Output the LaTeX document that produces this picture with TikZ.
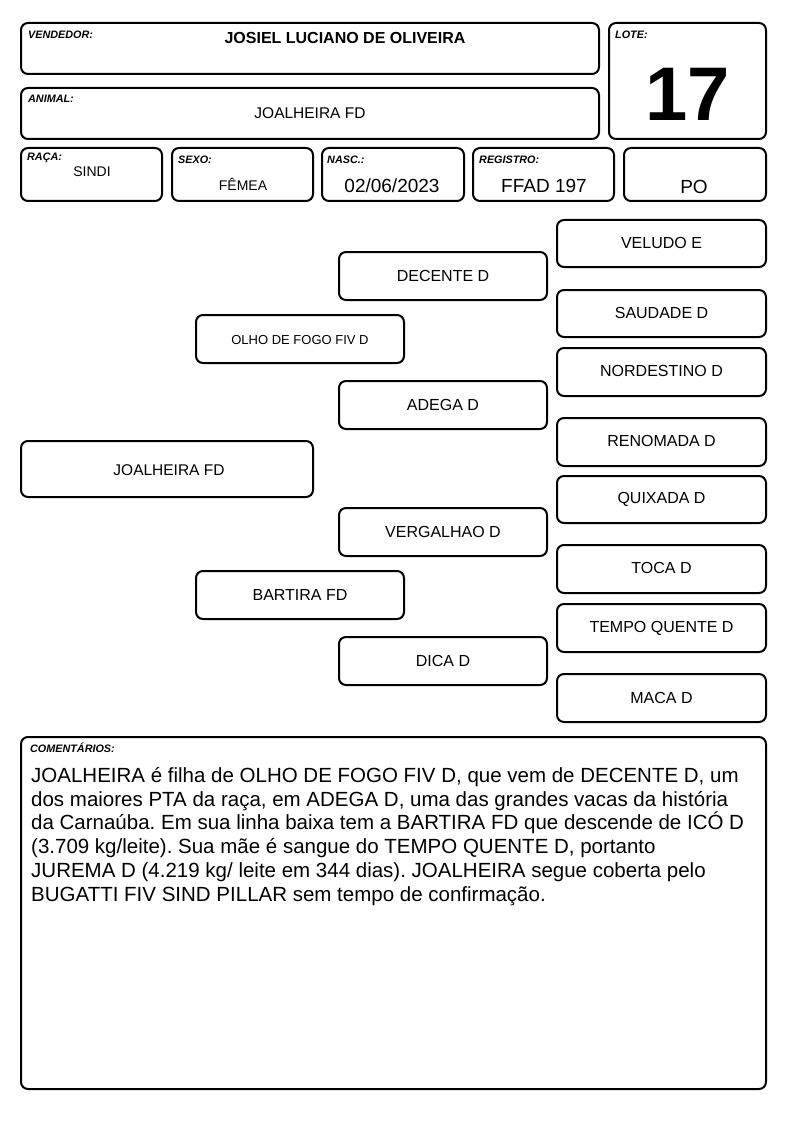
\documentclass[tikz,border=0pt]{standalone}
\usepackage{fontspec}
\setmainfont{Liberation Sans}
\frenchspacing
\begin{document}
\begin{tikzpicture}[x=1pt,y=-1pt,
  box/.style={draw,line width=2pt,rounded corners=7pt},
  lab/.style={anchor=west,font=\fontsize{10.8}{12}\selectfont\bfseries\itshape,inner sep=0pt},
  ped/.style={font=\fontsize{16}{18}\selectfont,inner sep=0pt},
  small/.style={font=\fontsize{14}{16}\selectfont,inner sep=0pt},
  val/.style={font=\fontsize{19}{21}\selectfont,inner sep=0pt}]
\useasboundingbox (0,0) rectangle (794,1123);
\fill[white] (0,0) rectangle (794,1123);
% header boxes
\draw[box] (21,23) rectangle (599,74);
\node[lab] (lvend) at (28,35) {VENDEDOR:};
\node[font=\fontsize{16}{18}\selectfont\bfseries,inner sep=0pt] (vend) at (345,38) {JOSIEL LUCIANO DE OLIVEIRA};
\draw[box] (609,23) rectangle (766,139);
\node[lab] (llote) at (615,35) {LOTE:};
\node[font=\fontsize{76}{80}\selectfont\bfseries,inner sep=0pt] (lote) at (688,94) {17};
\draw[box] (21,88) rectangle (599,139);
\node[lab] (lanim) at (28,99) {ANIMAL:};
\node[font=\fontsize{15.5}{17}\selectfont,inner sep=0pt] (anim) at (310,113) {JOALHEIRA FD};
\draw[box] (21,148) rectangle (162,201);
\node[lab] (lraca) at (27,158) {RAÇA:};
\node[small] (raca) at (92,172) {SINDI};
\draw[box] (172,148) rectangle (313,201);
\node[lab] (lsexo) at (178,160) {SEXO:};
\node[small] (sexo) at (243,184) {FÊMEA};
\draw[box] (322,148) rectangle (464,201);
\node[lab] (lnasc) at (327,160) {NASC.:};
\node[val] (nasc) at (392,186) {02/06/2023};
\draw[box] (473,148) rectangle (614,201);
\node[lab] (lreg) at (479,160) {REGISTRO:};
\node[val] (reg) at (544,186) {FFAD 197};
\draw[box] (624,148) rectangle (766,201);
\node[val] (po) at (694,187) {PO};
% pedigree
\draw[box] (557,220) rectangle (766,267); \node[ped] (veludo) at (661.5,243) {VELUDO E};
\draw[box] (339,252) rectangle (547,300); \node[ped] (decente) at (443,276) {DECENTE D};
\draw[box] (557,290) rectangle (766,337); \node[ped] (saudade) at (661.5,313) {SAUDADE D};
\draw[box] (196,315) rectangle (404,363); \node[font=\fontsize{13}{14}\selectfont,inner sep=0pt] (olho) at (300,340) {OLHO DE FOGO FIV D};
\draw[box] (557,348) rectangle (766,396); \node[ped] (nordestino) at (661.5,371) {NORDESTINO D};
\draw[box] (339,381) rectangle (547,429); \node[ped] (adega) at (443,405) {ADEGA D};
\draw[box] (557,418) rectangle (766,466); \node[ped] (renomada) at (661.5,441) {RENOMADA D};
\draw[box] (21,441) rectangle (313,497); \node[font=\fontsize{15.5}{17}\selectfont,inner sep=0pt] (joalheira) at (169,470) {JOALHEIRA FD};
\draw[box] (557,476) rectangle (766,523); \node[ped] (quixada) at (661.5,499) {QUIXADA D};
\draw[box] (339,508) rectangle (547,556); \node[ped] (vergalhao) at (443,532) {VERGALHAO D};
\draw[box] (557,545) rectangle (766,593); \node[ped] (toca) at (661.5,568) {TOCA D};
\draw[box] (196,571) rectangle (404,619); \node[ped] (bartira) at (300,595) {BARTIRA FD};
\draw[box] (557,604) rectangle (766,652); \node[ped] (tempo) at (661.5,628) {TEMPO QUENTE D};
\draw[box] (339,637) rectangle (547,685); \node[ped] (dica) at (443,661) {DICA D};
\draw[box] (557,674) rectangle (766,722); \node[ped] (maca) at (661.5,698) {MACA D};
% comments
\draw[box] (21,737) rectangle (766,1089);
\node[lab] (lcom) at (30,748) {COMENTÁRIOS:};
\node[anchor=north west,inner sep=0pt,align=left,font=\fontsize{20.5}{23.8}\selectfont] (com) at (31,767) {JOALHEIRA é filha de OLHO DE FOGO FIV D, que vem de DECENTE D, um\\
dos maiores PTA da raça, em ADEGA D, uma das grandes vacas da história\\
da Carnaúba. Em sua linha baixa tem a BARTIRA FD que descende de ICÓ D\\
(3.709 kg/leite). Sua mãe é sangue do TEMPO QUENTE D, portanto\\
JUREMA D (4.219 kg/ leite em 344 dias). JOALHEIRA segue coberta pelo\\
BUGATTI FIV SIND PILLAR sem tempo de confirmação.};
\end{tikzpicture}
\end{document}
